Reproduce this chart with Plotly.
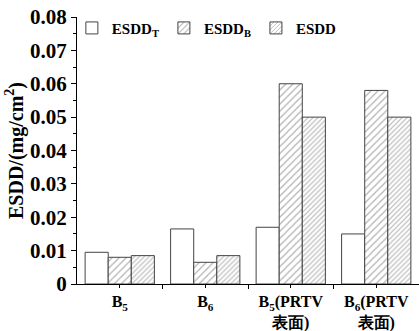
import plotly.graph_objects as go

categories = ["<b>B<sub>5</sub></b>", "<b>B<sub>6</sub></b>",
              "<b>B<sub>5</sub>(PRTV</b><br><b>表面)</b>", "<b>B<sub>6</sub>(PRTV</b><br><b>表面)</b>"]
esdd_t = [0.0095, 0.0165, 0.017, 0.015]
esdd_b = [0.008, 0.0065, 0.060, 0.058]
esdd = [0.0085, 0.0085, 0.050, 0.050]
y_ticks = [0, 0.01, 0.02, 0.03, 0.04, 0.05, 0.06, 0.07, 0.08]
y_tick_text = ["<b>0</b>", "<b>0.01</b>", "<b>0.02</b>", "<b>0.03</b>", "<b>0.04</b>",
               "<b>0.05</b>", "<b>0.06</b>", "<b>0.07</b>", "<b>0.08</b>"]

x = list(range(len(categories)))
FONT = "Liberation Serif"
edge = dict(color="#444444", width=1)

fig = go.Figure()
fig.add_trace(go.Bar(x=x, y=esdd_t, name="<b>ESDD<sub>T</sub></b>",
                     marker=dict(color="white", line=edge)))
fig.add_trace(go.Bar(x=x, y=esdd_b, name="<b>ESDD<sub>B</sub></b>",
                     marker=dict(color="white", line=edge,
                                 pattern=dict(shape="/", size=5, solidity=0.25,
                                              fgcolor="#666666", bgcolor="white"))))
fig.add_trace(go.Bar(x=x, y=esdd, name="<b>ESDD</b>",
                     marker=dict(color="white", line=edge,
                                 pattern=dict(shape="/", size=3.5, solidity=0.3,
                                              fgcolor="#666666", bgcolor="white"))))

fig.update_layout(
    width=419, height=331,
    margin=dict(l=77, r=0, t=17, b=47),
    paper_bgcolor="white", plot_bgcolor="white",
    barmode="group", bargap=0.19, bargroupgap=0,
    font=dict(family=FONT, color="black"),
    showlegend=True,
    legend=dict(orientation="h", x=-0.015, y=1.02, xanchor="left", yanchor="top",
                font=dict(family=FONT, size=15, color="black"),
                bgcolor="rgba(0,0,0,0)", itemwidth=30, tracegroupgap=0),
    xaxis=dict(range=[-0.5, 3.5], tickmode="array", tickvals=x, ticktext=categories,
               tickfont=dict(family=FONT, size=16, color="black"), automargin=False,
               showline=True, linecolor="black", linewidth=1,
               ticks="outside", ticklen=3, tickcolor="black",
               minor=dict(tickmode="array", tickvals=[0.5, 1.5, 2.5], ticks="outside",
                          ticklen=4, tickcolor="black"),
               showgrid=False, zeroline=False),
    yaxis=dict(range=[0, 0.08], tickmode="array", tickvals=y_ticks, ticktext=y_tick_text,
               tickfont=dict(family=FONT, size=21, color="black"), automargin=False,
               showline=True, linecolor="black", linewidth=1,
               ticks="outside", ticklen=5, tickcolor="black",
               minor=dict(dtick=0.005, ticks="outside", ticklen=3, tickcolor="black"),
               showgrid=False, zeroline=False,
               title=dict(text="<b>ESDD/(mg/cm<sup>2</sup>)</b>", standoff=1,
                          font=dict(family=FONT, size=20, color="black"))),
)

fig.write_html("out.html")
